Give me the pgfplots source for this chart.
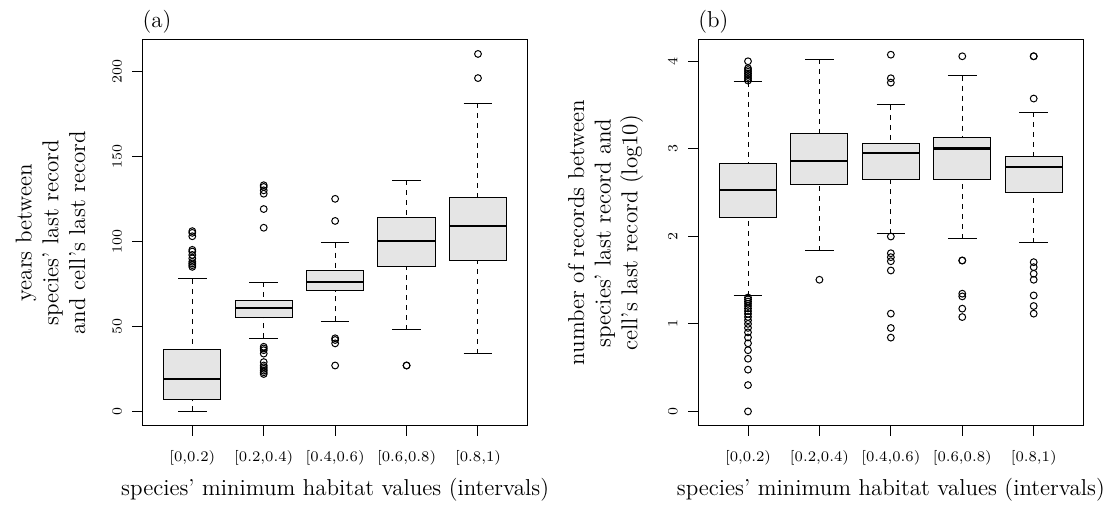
\documentclass[border=0pt]{standalone}
\usepackage{pgfplots}
\pgfplotsset{compat=1.18}
\usepgfplotslibrary{statistics}
\definecolor{boxfill}{HTML}{E5E5E5}
\pgfplotsset{
  every axis title/.style={at={(axis description cs:0,1)}, anchor=west, inner sep=0pt, yshift=9.25pt, font=\fontsize{11.5}{13}\selectfont},
  rbox/.style={
    scale only axis, width=192.85pt, height=192.85pt,
    xmin=0.3, xmax=5.7,
    xtick={1,2,3,4,5},
    xticklabels={{[0,0.2)},{[0.2,0.4)},{[0.4,0.6)},{[0.6,0.8)},{[0.8,1)}},
    tick align=outside, tick pos=left,
    major tick length=5pt,
    axis line style={line width=0.5pt},
    tick style={black, line width=0.5pt},
    tick label style={font=\fontsize{7.35}{8}\selectfont},
    yticklabel style={rotate=90, anchor=south, inner sep=0pt},
    yticklabel shift=5.15pt,
    xticklabel style={anchor=north, inner sep=0pt},
    xticklabel shift=7.15pt,
    label style={font=\fontsize{11.5}{13.35}\selectfont},
    xlabel={species' minimum habitat values (intervals)},
    xlabel style={at={(axis description cs:0.5,-0.1356)}, anchor=north, inner sep=0pt},
    ylabel style={anchor=center, align=center, inner sep=0pt},
    boxplot/draw direction=y,
    boxplot/box extend=0.8,
    boxplot/whisker extend=0.4,
    boxplot/every box/.style={draw=black, fill=boxfill, line width=0.5pt},
    boxplot/every median/.style={draw=black, line width=1.1pt},
    boxplot/draw/lower whisker/.code={%
      \draw[black, line width=0.5pt, dash pattern=on 2.5pt off 2.5pt]
        (boxplot box cs:\pgfplotsboxplotvalue{lower whisker},0.5) --
        (boxplot box cs:\pgfplotsboxplotvalue{lower quartile},0.5);
      \draw[black, line width=0.5pt]
        (boxplot whisker cs:\pgfplotsboxplotvalue{lower whisker},0) --
        (boxplot whisker cs:\pgfplotsboxplotvalue{lower whisker},1);
    },
    boxplot/draw/upper whisker/.code={%
      \draw[black, line width=0.5pt, dash pattern=on 2.5pt off 2.5pt]
        (boxplot box cs:\pgfplotsboxplotvalue{upper whisker},0.5) --
        (boxplot box cs:\pgfplotsboxplotvalue{upper quartile},0.5);
      \draw[black, line width=0.5pt]
        (boxplot whisker cs:\pgfplotsboxplotvalue{upper whisker},0) --
        (boxplot whisker cs:\pgfplotsboxplotvalue{upper whisker},1);
    },
  },
  outl/.style={only marks, mark=o, mark size=1.7pt, mark options={black, line width=0.5pt}},
}
\begin{document}
\begin{tikzpicture}
\path[use as bounding box] (0,0) rectangle (557pt,253.5pt);
% ---------------- panel (a)
\begin{axis}[rbox,
  at={(71.15pt,40.65pt)}, anchor=south west,
  ymin=-8.4, ymax=218.4,
  ytick={0,50,100,150,200},
  title={(a)},
  ylabel={years between\\species' last record\\and cell's last record},
  ylabel style={at={(axis description cs:-0.238,0.5)}},
]
\addplot[boxplot prepared={draw position=1, lower whisker=0, lower quartile=7.1, median=19.2, upper quartile=36.5, upper whisker=78}] coordinates {};
\addplot[boxplot prepared={draw position=2, lower whisker=43, lower quartile=55.3, median=61, upper quartile=65.1, upper whisker=76}] coordinates {};
\addplot[boxplot prepared={draw position=3, lower whisker=53, lower quartile=71, median=76, upper quartile=83, upper whisker=99.2}] coordinates {};
\addplot[boxplot prepared={draw position=4, lower whisker=48, lower quartile=85, median=100.4, upper quartile=114.1, upper whisker=136}] coordinates {};
\addplot[boxplot prepared={draw position=5, lower whisker=34, lower quartile=89, median=108.8, upper quartile=126, upper whisker=181.2}] coordinates {};
\addplot[outl] coordinates {
(1,85) (1,86) (1,87) (1,88) (1,90) (1,92) (1,94) (1,95) (1,103) (1,105) (1,106)
(2,22) (2,23) (2,24) (2,25) (2,26) (2,27) (2,29) (2,34) (2,36) (2,37) (2,38) (2,108) (2,119) (2,128) (2,130) (2,132) (2,133)
(3,27) (3,40) (3,42) (3,43) (3,112) (3,125)
(4,27) (4,27)
(5,196) (5,210.2)
};
\end{axis}
% ---------------- panel (b)
\begin{axis}[rbox,
  at={(349pt,40.65pt)}, anchor=south west,
  ymin=-0.163, ymax=4.243,
  ytick={0,1,2,3,4},
  title={(b)},
  ylabel={number of records between\\species' last record and\\cell's last record (log10)},
  ylabel style={at={(axis description cs:-0.2398,0.5)}},
]
\addplot[boxplot prepared={draw position=1, lower whisker=1.322, lower quartile=2.218, median=2.533, upper quartile=2.833, upper whisker=3.764}] coordinates {};
\addplot[boxplot prepared={draw position=2, lower whisker=1.838, lower quartile=2.587, median=2.864, upper quartile=3.175, upper whisker=4.023}] coordinates {};
\addplot[boxplot prepared={draw position=3, lower whisker=2.028, lower quartile=2.644, median=2.951, upper quartile=3.061, upper whisker=3.502}] coordinates {};
\addplot[boxplot prepared={draw position=4, lower whisker=1.971, lower quartile=2.655, median=3.004, upper quartile=3.134, upper whisker=3.836}] coordinates {};
\addplot[boxplot prepared={draw position=5, lower whisker=1.929, lower quartile=2.496, median=2.792, upper quartile=2.917, upper whisker=3.419}] coordinates {};
\addplot[outl] coordinates {
(1,0) (1,0.301) (1,0.477) (1,0.602) (1,0.699) (1,0.778) (1,0.845) (1,0.903) (1,0.954) (1,1) (1,1.041) (1,1.079) (1,1.114) (1,1.146) (1,1.176) (1,1.204) (1,1.23) (1,1.255) (1,1.279) (1,1.301)
(1,3.78) (1,3.80) (1,3.82) (1,3.84) (1,3.86) (1,3.88) (1,3.90) (1,3.92) (1,4.0)
(2,1.504)
(3,0.843) (3,0.953) (3,1.117) (3,1.61) (3,1.716) (3,1.762) (3,1.807) (3,1.998) (3,3.756) (3,3.806) (3,4.075)
(4,1.078) (4,1.174) (4,1.314) (4,1.345) (4,1.724) (4,1.724) (4,4.057)
(5,1.117) (5,1.204) (5,1.325) (5,1.504) (5,1.573) (5,1.648) (5,1.705) (5,3.574) (5,4.057) (5,4.057)
};
\end{axis}
\end{tikzpicture}
\end{document}
